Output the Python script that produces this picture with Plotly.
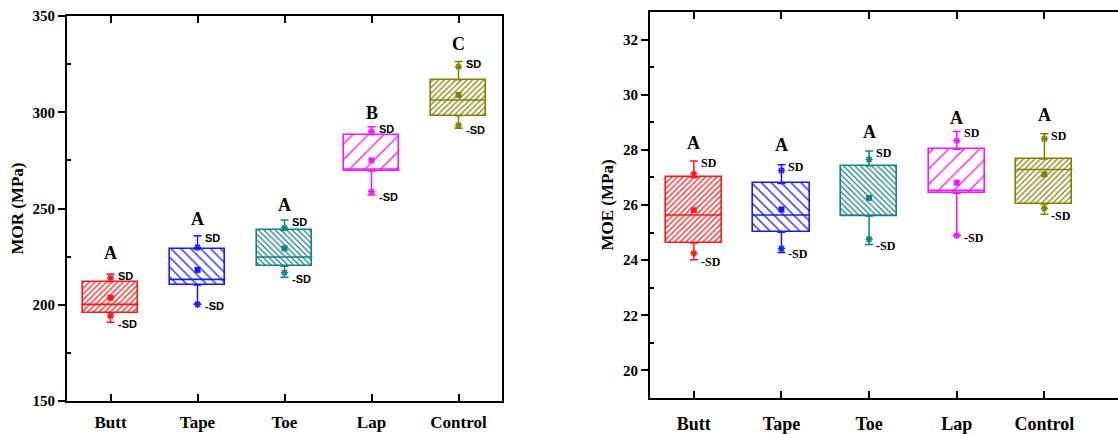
import plotly.graph_objects as go

categories = ["Butt", "Tape", "Toe", "Lap", "Control"]
colors = ["#FF1A1A", "#1A1AFF", "#128282", "#FF14FF", "#838000"]

# MOR (left panel)
mor_q1 = [195.9, 210.3, 220.0, 269.5, 298.2]
mor_median = [200.2, 213.2, 224.8, 270.5, 306.4]
mor_q3 = [212.0, 229.1, 238.8, 288.4, 316.9]
mor_mean = [203.7, 218.1, 229.3, 275.0, 309.0]
mor_upper = [216.0, 235.9, 244.0, 292.5, 326.3]
mor_lower = [190.9, 200.2, 214.3, 257.0, 291.7]
mor_sd_plus = [213.9, 229.8, 240.0, 289.9, 323.7]
mor_sd_minus = [194.2, 200.2, 216.7, 258.7, 293.2]
mor_letters = ["A", "A", "A", "B", "C"]
mor_letter_y = [226.9, 244.5, 251.8, 299.5, 335.5]

# MOE (right panel)
moe_q1 = [24.62, 25.01, 25.60, 26.43, 26.04]
moe_median = [25.64, 25.64, 25.62, 26.53, 27.29]
moe_q3 = [27.00, 26.78, 27.42, 28.02, 27.67]
moe_mean = [25.81, 25.84, 26.26, 26.81, 27.11]
moe_upper = [27.60, 27.46, 27.96, 28.67, 28.58]
moe_lower = [24.01, 24.28, 24.57, 24.89, 25.66]
moe_sd_plus = [27.12, 27.25, 27.65, 28.33, 28.40]
moe_sd_minus = [24.25, 24.42, 24.76, 24.90, 25.88]
moe_letters = ["A", "A", "A", "A", "A"]
moe_letter_y = [28.25, 28.17, 28.65, 29.17, 29.25]

pattern_shapes = ["/", "\\", "\\", "/", "/"]
pattern_sizes = [4, 7, 4, 11, 4]
pattern_solidity = [0.3, 0.18, 0.3, 0.12, 0.3]

xpos = list(range(len(categories)))
BOX_W = 0.64

fig = go.Figure()

SERIF = "Liberation Serif"
SANS = "Liberation Sans"


def add_panel(xa, ya, q1, med, q3, mean, upper, lower, sdp, sdm, letters, letter_y, sd_font):
    xref = "x" if xa == "x" else "x2"
    yref = "y" if ya == "y" else "y2"
    fig.add_trace(go.Bar(
        x=xpos, base=q1, y=[b - a for a, b in zip(q1, q3)], width=BOX_W,
        xaxis=xa, yaxis=ya, showlegend=False, hoverinfo="skip",
        marker=dict(
            color="white",
            line=dict(color=colors, width=1.6),
            pattern=dict(shape=pattern_shapes, size=pattern_sizes, solidity=pattern_solidity,
                         fgcolor=colors, bgcolor="white", fillmode="replace"),
        ),
    ))
    for i in xpos:
        c = colors[i]
        # median line
        fig.add_trace(go.Scatter(
            x=[i], y=[med[i]], mode="markers", marker=dict(size=1, color=c, opacity=0),
            error_x=dict(type="data", array=[BOX_W / 2], width=0, thickness=1.6, color=c),
            xaxis=xa, yaxis=ya, showlegend=False, hoverinfo="skip"))
        # upper whisker
        fig.add_trace(go.Scatter(
            x=[i], y=[q3[i]], mode="markers", marker=dict(size=1, color=c, opacity=0),
            error_y=dict(type="data", symmetric=False, array=[upper[i] - q3[i]], arrayminus=[0],
                         width=4, thickness=1.5, color=c),
            xaxis=xa, yaxis=ya, showlegend=False, hoverinfo="skip"))
        # lower whisker
        fig.add_trace(go.Scatter(
            x=[i], y=[q1[i]], mode="markers", marker=dict(size=1, color=c, opacity=0),
            error_y=dict(type="data", symmetric=False, array=[0], arrayminus=[q1[i] - lower[i]],
                         width=4, thickness=1.5, color=c),
            xaxis=xa, yaxis=ya, showlegend=False, hoverinfo="skip"))
        # mean
        fig.add_trace(go.Scatter(
            x=[i], y=[mean[i]], mode="markers",
            marker=dict(symbol="square", size=6, color=c),
            xaxis=xa, yaxis=ya, showlegend=False, hoverinfo="skip"))
        # SD markers
        fig.add_trace(go.Scatter(
            x=[i, i], y=[sdp[i], sdm[i]], mode="markers",
            marker=dict(symbol="asterisk-open", size=6, color=c, line=dict(color=c, width=1.5)),
            xaxis=xa, yaxis=ya, showlegend=False, hoverinfo="skip"))
        fig.add_annotation(x=i, y=upper[i], xref=xref, yref=yref, text="SD", showarrow=False,
                           xanchor="left", yanchor="middle", xshift=5, yshift=-2,
                           font=sd_font)
        fig.add_annotation(x=i, y=lower[i], xref=xref, yref=yref, text="-SD", showarrow=False,
                           xanchor="left", yanchor="middle", xshift=5, yshift=-2,
                           font=sd_font)
        fig.add_annotation(x=i, y=letter_y[i], xref=xref, yref=yref, text=letters[i], showarrow=False,
                           xanchor="center", yanchor="middle",
                           font=dict(family=SERIF, size=18, color="black", weight="bold"))


add_panel("x", "y", mor_q1, mor_median, mor_q3, mor_mean, mor_upper, mor_lower,
          mor_sd_plus, mor_sd_minus, mor_letters, mor_letter_y,
          dict(family=SANS, size=11, color="black", weight="bold"))
add_panel("x2", "y2", moe_q1, moe_median, moe_q3, moe_mean, moe_upper, moe_lower,
          moe_sd_plus, moe_sd_minus, moe_letters, moe_letter_y,
          dict(family=SERIF, size=12, color="black", weight="bold"))

tickfont = dict(family=SERIF, size=15, color="black", weight="bold")
xtickfont1 = dict(family=SERIF, size=17, color="black", weight="bold")
xtickfont2 = dict(family=SERIF, size=18, color="black", weight="bold")
titlefont = dict(family=SERIF, size=17, color="black", weight="bold")

W, H = 1118, 434
common_x = dict(tickvals=xpos, ticktext=categories, showgrid=False, zeroline=False,
                showline=True, linecolor="black", linewidth=2, ticks="inside", ticklen=7,
                tickwidth=2, tickcolor="black", mirror="ticks", automargin=False)
common_y = dict(showgrid=False, zeroline=False, showline=True, linecolor="black", linewidth=2,
                ticks="outside", ticklen=7, tickwidth=2, tickcolor="black", tickfont=tickfont,
                automargin=False,
                minor=dict(ticks="inside", ticklen=4, tickwidth=2, tickcolor="black"))

fig.update_layout(
    width=W, height=H, margin=dict(l=0, r=0, t=0, b=0, autoexpand=False),
    paper_bgcolor="white", plot_bgcolor="white", barmode="overlay", bargap=0,
    xaxis=dict(domain=[67 / W, 502 / W], range=[-0.5, 4.5], anchor="y",
               tickfont=xtickfont1, ticklabelstandoff=5, **common_x),
    yaxis=dict(domain=[(H - 401) / H, (H - 16) / H], range=[150, 350], tickvals=[150, 200, 250, 300, 350],
               anchor="x", mirror=True,
               title=dict(text="MOR (MPa)", font=titlefont, standoff=5), **common_y),
    xaxis2=dict(domain=[650 / W, 1.0], range=[-0.5, 4.84], anchor="y2",
                tickfont=xtickfont2, ticklabelstandoff=8, **common_x),
    yaxis2=dict(domain=[(H - 398) / H, (H - 12) / H], range=[19, 33], tickvals=[20, 22, 24, 26, 28, 30, 32],
                anchor="x2", mirror=False,
                title=dict(text="MOE (MPa)", font=titlefont, standoff=5), **common_y),
)
fig.layout.yaxis.minor.tickvals = [175, 225, 275, 325]
fig.layout.yaxis2.minor.tickvals = [21, 23, 25, 27, 29, 31]

fig.write_html("out.html", config={"displayModeBar": False},
               post_script="document.body.style.margin='0';document.body.style.overflow='hidden';")
